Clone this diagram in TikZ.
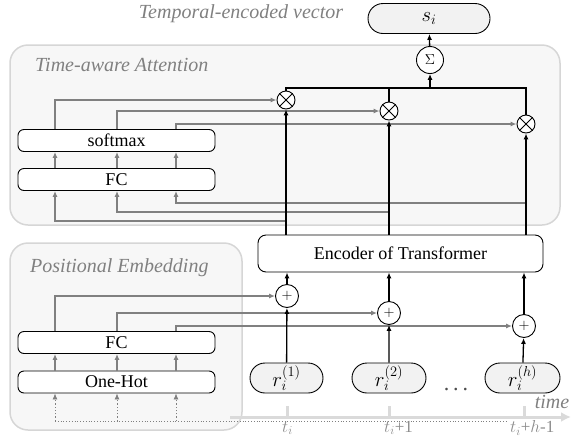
\documentclass[tikz,border=0pt]{standalone}
\usepackage{fontspec}
\setmainfont{Liberation Serif}
\usetikzlibrary{arrows.meta,shapes.misc}

\definecolor{panelfill}{HTML}{F7F7F7}
\definecolor{panelline}{HTML}{D6D6D6}
\definecolor{flow}{HTML}{808080}
\definecolor{axisgray}{HTML}{DADADA}
\definecolor{inputfill}{HTML}{F2F2F2}
\definecolor{ticktext}{HTML}{8C8C8C}

\begin{document}
\begin{tikzpicture}[x=1pt,y=-1pt,
  panel/.style={draw=panelline, fill=panelfill, line width=1.5pt, rounded corners=18pt},
  title/.style={font=\fontsize{20}{24}\selectfont\itshape, text=flow, inner sep=0pt},
  layer/.style={draw, fill=white, rounded corners=6pt, minimum width=197pt, minimum height=22pt,
                inner sep=0pt, font=\fontsize{18}{20}\selectfont, line width=0.9pt},
  op/.style={circle, draw, fill=white, inner sep=0pt, line width=0.9pt},
  pill/.style={rounded rectangle, draw, fill=inputfill, minimum height=30pt, inner sep=0pt,
               line width=0.9pt, font=\fontsize{22}{24}\selectfont},
  main/.style={-{Latex[length=6pt,width=5pt]}, line width=1.3pt},
  side/.style={-{Latex[length=6pt,width=5pt]}, draw=flow, line width=1.3pt},
  ticklabel/.style={font=\fontsize{17}{18}\selectfont, text=ticktext, inner sep=0pt},
]
\useasboundingbox (0,0) rectangle (571,440);

% panels
\draw[panel] (10,45) rectangle (560,225);
\draw[panel] (10,243) rectangle (242,430);

% titles
\node[title] (ttop) at (241,14) {Temporal-encoded vector};
\node[title, anchor=west] (tatt) at (35,65) {Time-aware Attention};
\node[title, anchor=west] (tpos) at (30,268) {Positional Embedding};

% time axis
\coordinate (axL) at (230,417);
\coordinate (axR) at (571,417);
\coordinate (dotL) at (55,421);
\coordinate (dotR) at (507,421);
\draw[flow, dotted, line width=0.8pt] (dotL) -- (dotR);
\draw[axisgray, line width=3pt, -{Latex[length=10pt,width=10pt]}] (axL) -- (axR);
\foreach \x in {287,389,524}
  \draw[axisgray, line width=3pt] (\x,406) -- (\x,417);
\node[ticklabel, anchor=west] (tl1) at (282,428) {$t_i$};
\node[ticklabel, anchor=west] (tl2) at (384,428) {$t_i$+1};
\node[ticklabel, anchor=west] (tl3) at (510,428) {$t_i$+$h$-1};
\node[title] (tlab) at (552,402) {time};

% column positions of the side branches
\coordinate (cA) at (55,0);
\coordinate (cB) at (117,0);
\coordinate (cC) at (176,0);

% output and aggregation
\node[pill, minimum width=122pt] (s) at (429,18.5) {$s_i$};
\node[op, minimum size=27pt, font=\fontsize{15}{15}\selectfont] (sum) at (430,60) {$\Sigma$};
\coordinate (join) at (430,88);

% attention products
\foreach \n/\x/\y in {m1/286/100, m2/389/111, m3/526/124} {
  \node[op, minimum size=18pt] (\n) at (\x,\y) {};
  \draw[line width=0.9pt] (\n.north west) -- (\n.south east) (\n.north east) -- (\n.south west);
}

% attention layers
\node[layer] (sm) at (116.5,140.5) {softmax};
\node[layer] (fc1) at (116.5,179.5) {FC};

% encoder
\node[draw, fill=white, rounded corners=8pt, minimum width=285pt, minimum height=37pt,
      inner sep=0pt, line width=0.9pt, font=\fontsize{18}{20}\selectfont] (enc) at (400.5,253.5)
      {Encoder of Transformer};

% additions
\foreach \n/\x/\y in {p1/287/296, p2/389/313, p3/524/326}
  \node[op, minimum size=23pt, font=\fontsize{14}{14}\selectfont] (\n) at (\x,\y) {$+$};

% inputs
\node[pill, minimum width=73pt] (r1) at (286.5,378) {$r_i^{(1)}$};
\node[pill, minimum width=74pt] (r2) at (389,378) {$r_i^{(2)}$};
\node[pill, minimum width=75pt] (r3) at (522.5,378) {$r_i^{(h)}$};
\node[text=black!70, font=\fontsize{22}{22}\selectfont, inner sep=0pt] (dots) at (456,390) {.\hspace{4pt}.\hspace{4pt}.};

% positional layers
\node[layer] (fc2) at (116.5,342.5) {FC};
\node[layer] (oh) at (116.5,382) {One-Hot};

% grey side flows: attention
\draw[side] (sm.north -| cA) |- (m1);
\draw[side] (sm.north -| cB) |- (m2);
\draw[side] (sm.north -| cC) |- (m3);
\foreach \c in {cA,cB,cC}
  \draw[side] (fc1.north -| \c) -- (sm.south -| \c);
\coordinate (tapA) at (286,221);
\coordinate (tapB) at (389,212);
\coordinate (tapC) at (526,203);
\draw[side] (tapA) -| (fc1.south -| cA);
\draw[side] (tapB) -| (fc1.south -| cB);
\draw[side] (tapC) -| (fc1.south -| cC);

% grey side flows: positional embedding
\draw[side] (fc2.north -| cA) |- (p1);
\draw[side] (fc2.north -| cB) |- (p2);
\draw[side] (fc2.north -| cC) |- (p3);
\foreach \c in {cA,cB,cC} {
  \draw[side] (oh.north -| \c) -- (fc2.south -| \c);
  \draw[side, dotted, line width=0.8pt] (dotL -| \c) -- (oh.south -| \c);
}

% main flow
\draw[main] (r1) -- (p1);
\draw[main] (r2) -- (p2);
\draw[main] (r3) -- (p3);
\draw[main] (p1) -- (enc.south -| p1);
\draw[main] (p2) -- (enc.south -| p2);
\draw[main] (p3) -- (enc.south -| p3);
\draw[main] (enc.north -| m1) -- (m1);
\draw[main] (enc.north -| m2) -- (m2);
\draw[main] (enc.north -| m3) -- (m3);
\draw[line width=1.3pt] (m1.north) |- (join) -| (m3.north);
\draw[line width=1.3pt] (m2.north) -- (m2.north |- join);
\draw[main] (join) -- (sum);
\draw[main] (sum) -- (s);
\end{tikzpicture}
\end{document}
